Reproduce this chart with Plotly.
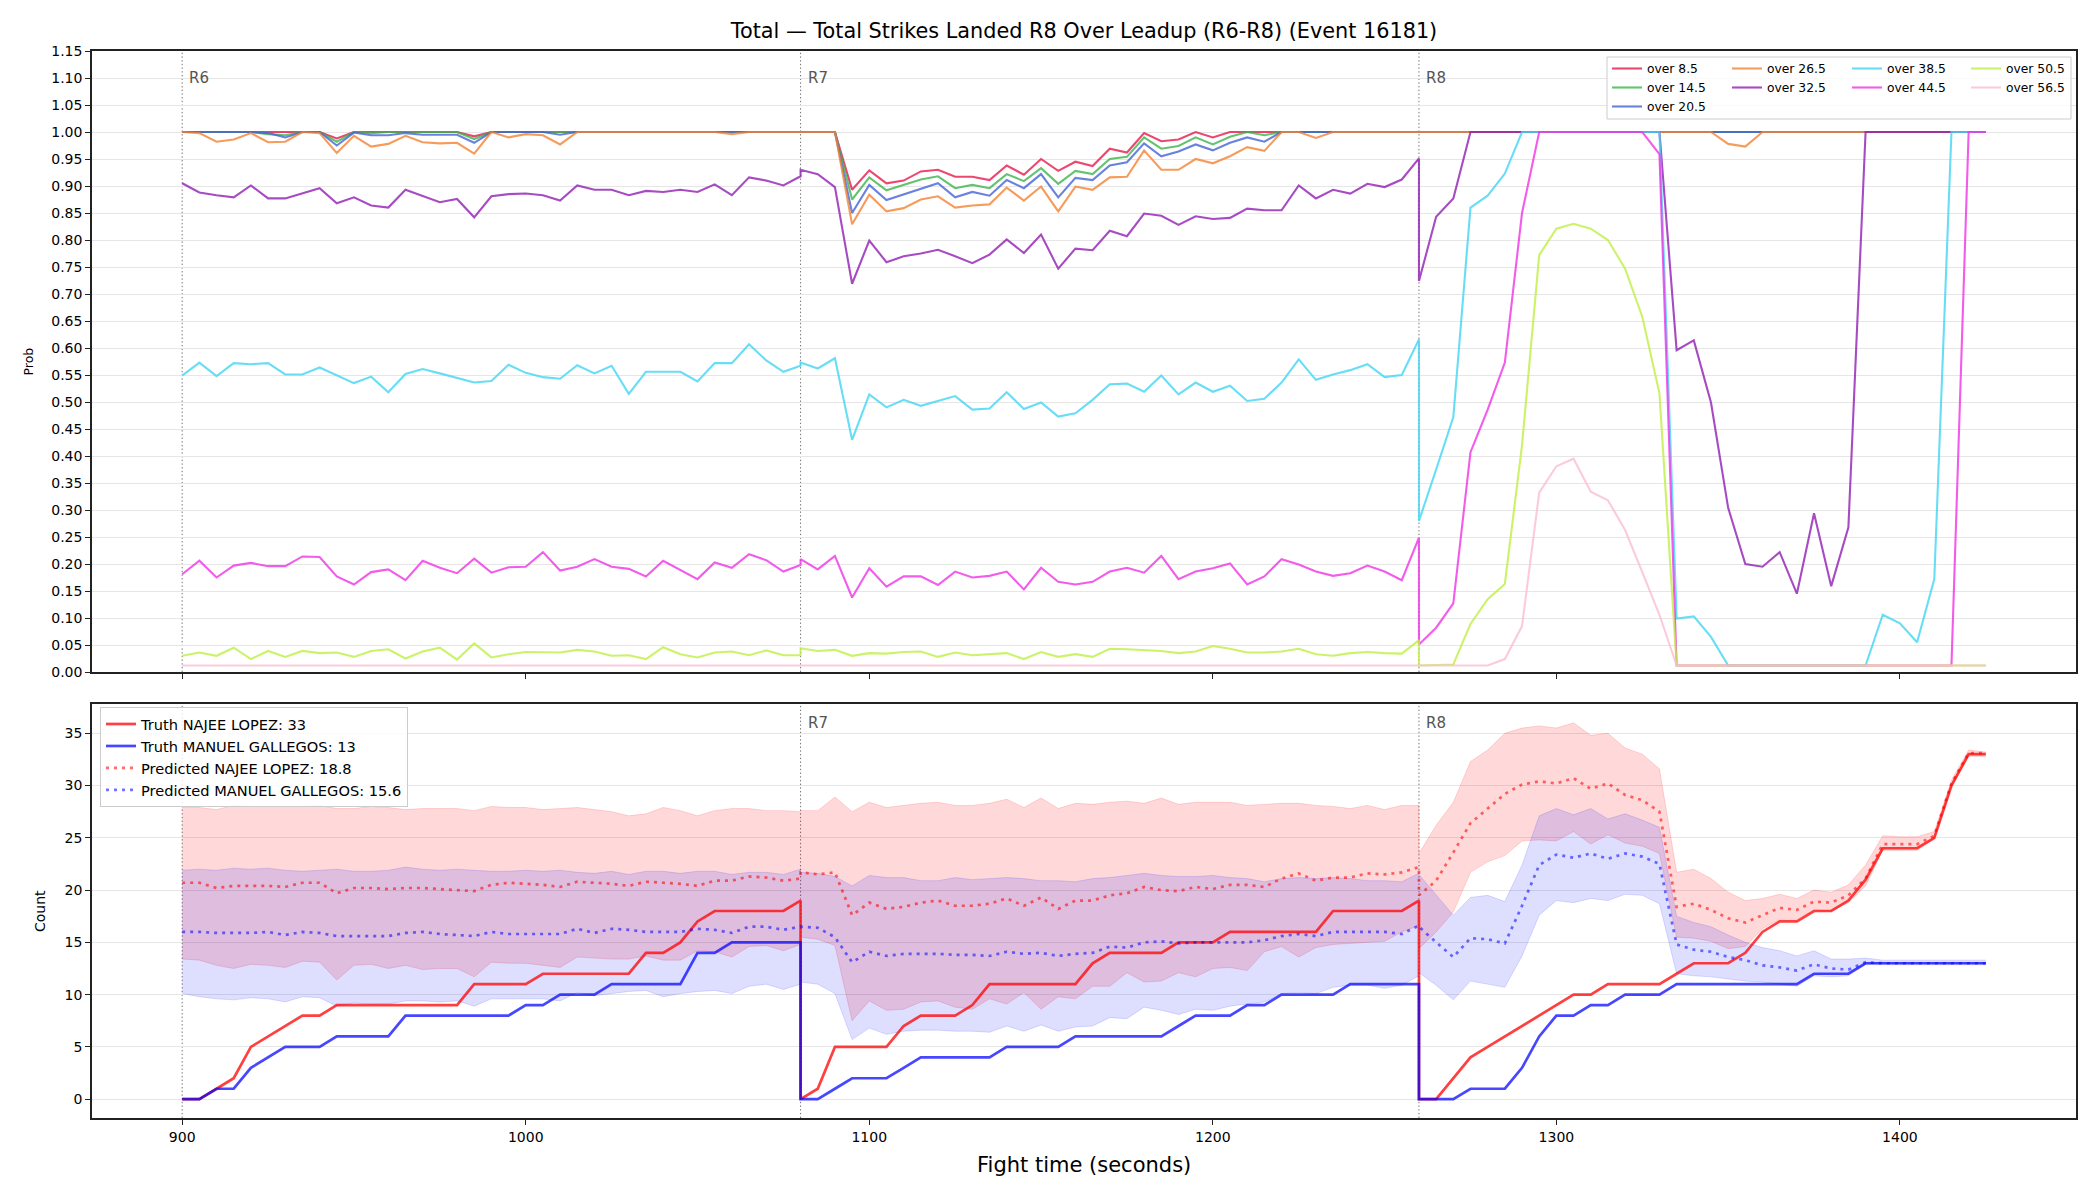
import plotly.graph_objects as go

# ---------------- time grid (5 s samples, each round restarts at its start time) ----------------
t_r6 = list(range(900, 1081, 5))    # 37 samples
t_r7 = list(range(1080, 1261, 5))   # 37 samples
t_r8 = list(range(1260, 1426, 5))   # 34 samples
time_s = t_r6 + t_r7 + t_r8

round_starts = [900, 1080, 1260]
round_labels = ["R6", "R7", "R8"]
x_ticks = [900, 1000, 1100, 1200, 1300, 1400]

# ---------------- top panel: line probabilities ----------------
over_8_5_r6 = [1.0, 1.0, 1.0, 1.0, 1.0, 1.0, 1.0, 1.0, 1.0, 0.988, 1.0, 1.0, 1.0, 1.0, 1.0, 1.0, 1.0, 0.992,
               1.0, 1.0, 1.0, 1.0, 1.0, 1.0, 1.0, 1.0, 1.0, 1.0, 1.0, 1.0, 1.0, 1.0, 1.0, 1.0, 1.0, 1.0, 1.0]
over_8_5_r7 = [1.0, 1.0, 1.0, 0.893, 0.929, 0.905, 0.910, 0.927, 0.930, 0.917, 0.917, 0.911, 0.938, 0.921,
               0.950, 0.928, 0.945, 0.937, 0.969, 0.962, 0.998, 0.983, 0.986, 1.0, 0.990, 1.0,
               1.0, 1.0, 1.0, 1.0, 1.0, 1.0, 1.0, 1.0, 1.0, 1.0, 1.0]
over_8_5_r8 = [1.0, 1.0, 1.0, 1.0, 1.0, 1.0, 1.0, 1.0, 1.0, 1.0, 1.0, 1.0, 1.0, 1.0, 1.0, 1.0, 1.0,
               1.0, 1.0, 1.0, 1.0, 1.0, 1.0, 1.0, 1.0, 1.0, 1.0, 1.0, 1.0, 1.0, 1.0, 1.0, 1.0, 1.0]

over_14_5_r6 = [1.0, 1.0, 1.0, 1.0, 1.0, 0.996, 0.994, 1.0, 1.0, 0.982, 1.0, 0.998, 1.0, 1.0, 1.0, 1.0, 1.0,
                0.987, 1.0, 1.0, 1.0, 1.0, 0.999, 1.0, 1.0, 1.0, 1.0, 1.0, 1.0, 1.0, 1.0, 1.0, 1.0, 1.0,
                1.0, 1.0, 1.0]
over_14_5_r7 = [1.0, 1.0, 1.0, 0.875, 0.916, 0.892, 0.902, 0.912, 0.918, 0.896, 0.902, 0.896, 0.922, 0.909,
                0.933, 0.904, 0.928, 0.922, 0.950, 0.954, 0.990, 0.969, 0.974, 0.990, 0.977, 0.991, 1.0,
                0.994, 1.0, 1.0, 1.0, 1.0, 1.0, 1.0, 1.0, 1.0, 1.0]
over_14_5_r8 = [1.0, 1.0, 1.0, 1.0, 1.0, 1.0, 1.0, 1.0, 1.0, 1.0, 1.0, 1.0, 1.0, 1.0, 1.0, 1.0, 1.0,
                1.0, 1.0, 1.0, 1.0, 1.0, 1.0, 1.0, 1.0, 1.0, 1.0, 1.0, 1.0, 1.0, 1.0, 1.0, 1.0, 1.0]

over_20_5_r6 = [1.0, 1.0, 1.0, 1.0, 1.0, 0.998, 0.990, 1.0, 1.0, 0.975, 0.999, 0.994, 0.994, 0.998, 0.995,
                0.995, 0.995, 0.980, 1.0, 1.0, 1.0, 1.0, 0.995, 1.0, 1.0, 1.0, 1.0, 1.0, 1.0, 1.0, 1.0,
                1.0, 1.0, 1.0, 1.0, 1.0, 1.0]
over_20_5_r7 = [1.0, 1.0, 1.0, 0.850, 0.902, 0.874, 0.884, 0.895, 0.905, 0.879, 0.889, 0.882, 0.911, 0.896,
                0.922, 0.879, 0.915, 0.911, 0.938, 0.944, 0.979, 0.955, 0.964, 0.977, 0.966, 0.980, 0.990,
                0.982, 1.0, 1.0, 1.0, 1.0, 1.0, 1.0, 1.0, 1.0, 1.0]
over_20_5_r8 = [1.0, 1.0, 1.0, 1.0, 1.0, 1.0, 1.0, 1.0, 1.0, 1.0, 1.0, 1.0, 1.0, 1.0, 1.0, 1.0, 1.0,
                1.0, 1.0, 1.0, 1.0, 1.0, 1.0, 1.0, 1.0, 1.0, 1.0, 1.0, 1.0, 1.0, 1.0, 1.0, 1.0, 1.0]

over_26_5_r6 = [1.0, 0.998, 0.982, 0.986, 0.998, 0.981, 0.982, 1.0, 0.998, 0.961, 0.993, 0.973, 0.978, 0.993,
                0.981, 0.979, 0.980, 0.960, 1.0, 0.990, 0.996, 0.994, 0.977, 1.0, 1.0, 1.0, 1.0, 1.0, 1.0,
                1.0, 1.0, 1.0, 0.996, 1.0, 1.0, 1.0, 1.0]
over_26_5_r7 = [1.0, 1.0, 1.0, 0.829, 0.884, 0.853, 0.859, 0.875, 0.881, 0.860, 0.864, 0.866, 0.897, 0.873,
                0.899, 0.853, 0.899, 0.893, 0.916, 0.917, 0.966, 0.930, 0.930, 0.950, 0.942, 0.955, 0.972,
                0.965, 1.0, 1.0, 0.989, 1.0, 1.0, 1.0, 1.0, 1.0, 1.0]
over_26_5_r8 = [1.0, 1.0, 1.0, 1.0, 1.0, 1.0, 1.0, 1.0, 1.0, 1.0, 1.0, 1.0, 1.0, 1.0, 1.0, 1.0, 1.0, 1.0,
                0.978, 0.973, 1.0, 1.0, 1.0, 1.0, 1.0, 1.0, 1.0, 1.0, 1.0, 1.0, 1.0, 1.0, 1.0, 1.0]

over_32_5_r6 = [0.905, 0.888, 0.883, 0.879, 0.901, 0.877, 0.877, 0.887, 0.896, 0.868, 0.879, 0.864, 0.860,
                0.893, 0.882, 0.870, 0.876, 0.842, 0.881, 0.885, 0.886, 0.883, 0.873, 0.901, 0.893, 0.893,
                0.883, 0.891, 0.889, 0.893, 0.889, 0.903, 0.883, 0.916, 0.910, 0.901, 0.918]
over_32_5_r7 = [0.930, 0.922, 0.898, 0.719, 0.799, 0.759, 0.770, 0.775, 0.782, 0.770, 0.757, 0.773, 0.801,
                0.776, 0.810, 0.747, 0.784, 0.781, 0.817, 0.807, 0.849, 0.845, 0.828, 0.844, 0.839, 0.841,
                0.858, 0.855, 0.855, 0.901, 0.877, 0.893, 0.886, 0.904, 0.898, 0.912, 0.951]
over_32_5_r8 = [0.724, 0.843, 0.877, 1.0, 1.0, 1.0, 1.0, 1.0, 1.0, 1.0, 1.0, 1.0, 1.0, 1.0, 1.0,
                0.596, 0.614, 0.499, 0.304, 0.200, 0.195, 0.222, 0.145, 0.294, 0.159, 0.268,
                1.0, 1.0, 1.0, 1.0, 1.0, 1.0, 1.0, 1.0]

over_38_5_r6 = [0.549, 0.573, 0.548, 0.572, 0.570, 0.572, 0.551, 0.551, 0.564, 0.550, 0.535, 0.547, 0.518,
                0.552, 0.561, 0.553, 0.545, 0.536, 0.539, 0.569, 0.554, 0.546, 0.543, 0.568, 0.553, 0.567,
                0.515, 0.556, 0.556, 0.556, 0.538, 0.572, 0.572, 0.607, 0.577, 0.556, 0.567]
over_38_5_r7 = [0.573, 0.562, 0.581, 0.430, 0.514, 0.490, 0.504, 0.493, 0.502, 0.511, 0.486, 0.488, 0.518,
                0.487, 0.499, 0.473, 0.479, 0.504, 0.533, 0.534, 0.519, 0.549, 0.514, 0.536, 0.519, 0.530,
                0.502, 0.506, 0.536, 0.579, 0.541, 0.551, 0.559, 0.570, 0.546, 0.550, 0.616]
over_38_5_r8 = [0.280, 0.375, 0.472, 0.860, 0.882, 0.923, 1.0, 1.0, 1.0, 1.0, 1.0, 1.0, 1.0, 1.0, 1.0,
                0.099, 0.103, 0.065, 0.012, 0.012, 0.012, 0.012, 0.012, 0.012, 0.012, 0.012, 0.012,
                0.106, 0.090, 0.055, 0.172, 1.0, 1.0, 1.0]

over_44_5_r6 = [0.181, 0.206, 0.175, 0.197, 0.202, 0.196, 0.196, 0.214, 0.213, 0.177, 0.162, 0.185, 0.190,
                0.170, 0.206, 0.193, 0.183, 0.210, 0.184, 0.194, 0.195, 0.222, 0.188, 0.195, 0.209, 0.195,
                0.191, 0.177, 0.206, 0.189, 0.172, 0.203, 0.193, 0.218, 0.207, 0.186, 0.198]
over_44_5_r7 = [0.209, 0.190, 0.215, 0.138, 0.192, 0.158, 0.177, 0.177, 0.161, 0.186, 0.175, 0.178, 0.186,
                0.153, 0.193, 0.167, 0.162, 0.167, 0.186, 0.193, 0.184, 0.215, 0.172, 0.186, 0.192, 0.201,
                0.162, 0.177, 0.209, 0.199, 0.186, 0.178, 0.183, 0.197, 0.186, 0.170, 0.249]
over_44_5_r8 = [0.051, 0.082, 0.127, 0.407, 0.486, 0.573, 0.850, 1.0, 1.0, 1.0, 1.0, 1.0, 1.0, 1.0, 0.959,
                0.012, 0.012, 0.012, 0.012, 0.012, 0.012, 0.012, 0.012, 0.012, 0.012, 0.012, 0.012,
                0.012, 0.012, 0.012, 0.012, 0.012, 1.0, 1.0]

over_50_5_r6 = [0.030, 0.036, 0.030, 0.045, 0.024, 0.039, 0.028, 0.039, 0.035, 0.036, 0.028, 0.039, 0.042,
                0.025, 0.038, 0.045, 0.023, 0.053, 0.027, 0.033, 0.037, 0.036, 0.036, 0.041, 0.038, 0.030,
                0.031, 0.024, 0.046, 0.033, 0.027, 0.036, 0.038, 0.031, 0.040, 0.031, 0.031]
over_50_5_r7 = [0.044, 0.039, 0.041, 0.030, 0.035, 0.034, 0.037, 0.038, 0.028, 0.036, 0.031, 0.033, 0.035,
                0.024, 0.037, 0.028, 0.033, 0.028, 0.043, 0.042, 0.040, 0.039, 0.035, 0.038, 0.048, 0.043,
                0.036, 0.036, 0.038, 0.043, 0.033, 0.030, 0.035, 0.037, 0.035, 0.034, 0.059]
over_50_5_r8 = [0.012, 0.013, 0.014, 0.089, 0.135, 0.163, 0.420, 0.772, 0.821, 0.830, 0.821, 0.800, 0.747,
                0.658, 0.516, 0.012, 0.012, 0.012, 0.012, 0.012, 0.012, 0.012, 0.012, 0.012, 0.012,
                0.012, 0.012, 0.012, 0.012, 0.012, 0.012, 0.012, 0.012, 0.012]

over_56_5_r6 = [0.012, 0.012, 0.012, 0.012, 0.012, 0.012, 0.012, 0.012, 0.012, 0.012, 0.012, 0.012, 0.012,
                0.012, 0.012, 0.012, 0.012, 0.012, 0.012, 0.012, 0.012, 0.012, 0.012, 0.012, 0.012, 0.012,
                0.012, 0.012, 0.012, 0.012, 0.012, 0.012, 0.012, 0.012, 0.012, 0.012, 0.012]
over_56_5_r7 = [0.012, 0.012, 0.012, 0.012, 0.012, 0.012, 0.012, 0.012, 0.012, 0.012, 0.012, 0.012, 0.012,
                0.012, 0.012, 0.012, 0.012, 0.012, 0.012, 0.012, 0.012, 0.012, 0.012, 0.012, 0.012, 0.012,
                0.012, 0.012, 0.012, 0.012, 0.012, 0.012, 0.012, 0.012, 0.012, 0.012, 0.012]
over_56_5_r8 = [0.012, 0.012, 0.012, 0.012, 0.012, 0.024, 0.085, 0.332, 0.381, 0.395, 0.334, 0.318, 0.263,
                0.185, 0.106, 0.012, 0.012, 0.012, 0.012, 0.012, 0.012, 0.012, 0.012, 0.012, 0.012,
                0.012, 0.012, 0.012, 0.012, 0.012, 0.012, 0.012, 0.012, 0.012]

line_names = ["over 8.5", "over 14.5", "over 20.5", "over 26.5", "over 32.5",
              "over 38.5", "over 44.5", "over 50.5", "over 56.5"]
line_colors = ["rgba(230,25,75,0.8)", "rgba(60,180,75,0.8)", "rgba(67,99,216,0.8)",
               "rgba(245,130,49,0.8)", "rgba(145,30,180,0.8)", "rgba(66,212,244,0.8)",
               "rgba(240,50,230,0.8)", "rgba(191,239,69,0.8)", "rgba(250,190,212,0.8)"]
line_legend_cols = ["legend", "legend", "legend", "legend2", "legend2",
                    "legend3", "legend3", "legend4", "legend4"]

prob_values = [
    over_8_5_r6 + over_8_5_r7 + over_8_5_r8,
    over_14_5_r6 + over_14_5_r7 + over_14_5_r8,
    over_20_5_r6 + over_20_5_r7 + over_20_5_r8,
    over_26_5_r6 + over_26_5_r7 + over_26_5_r8,
    over_32_5_r6 + over_32_5_r7 + over_32_5_r8,
    over_38_5_r6 + over_38_5_r7 + over_38_5_r8,
    over_44_5_r6 + over_44_5_r7 + over_44_5_r8,
    over_50_5_r6 + over_50_5_r7 + over_50_5_r8,
    over_56_5_r6 + over_56_5_r7 + over_56_5_r8,
]

# ---------------- bottom panel: cumulative counts ----------------
truth_najee_r6 = [0, 0, 1, 2, 5, 6, 7, 8, 8, 9, 9, 9, 9, 9, 9, 9, 9, 11, 11, 11, 11, 12, 12, 12, 12, 12, 12,
                  14, 14, 15, 17, 18, 18, 18, 18, 18, 19]
truth_najee_r7 = [0, 1, 5, 5, 5, 5, 7, 8, 8, 8, 9, 11, 11, 11, 11, 11, 11, 13, 14, 14, 14, 14, 15, 15, 15,
                  16, 16, 16, 16, 16, 16, 18, 18, 18, 18, 18, 19]
truth_najee_r8 = [0, 0, 2, 4, 5, 6, 7, 8, 9, 10, 10, 11, 11, 11, 11, 12, 13, 13, 13, 14, 16, 17, 17, 18, 18,
                  19, 21, 24, 24, 24, 25, 30, 33, 33]

truth_manuel_r6 = [0, 0, 1, 1, 3, 4, 5, 5, 5, 6, 6, 6, 6, 8, 8, 8, 8, 8, 8, 8, 9, 9, 10, 10, 10, 11, 11, 11,
                   11, 11, 14, 14, 15, 15, 15, 15, 15]
truth_manuel_r7 = [0, 0, 1, 2, 2, 2, 3, 4, 4, 4, 4, 4, 5, 5, 5, 5, 6, 6, 6, 6, 6, 6, 7, 8, 8, 8, 9, 9, 10, 10,
                   10, 10, 11, 11, 11, 11, 11]
truth_manuel_r8 = [0, 0, 0, 1, 1, 1, 3, 6, 8, 8, 9, 9, 10, 10, 10, 11, 11, 11, 11, 11, 11, 11, 11, 12, 12, 12,
                   13, 13, 13, 13, 13, 13, 13, 13]

pred_najee_r6 = [20.7, 20.7, 20.2, 20.4, 20.4, 20.4, 20.3, 20.7, 20.7, 19.7, 20.2, 20.2, 20.1, 20.2, 20.2,
                 20.1, 20.0, 19.9, 20.5, 20.7, 20.6, 20.5, 20.3, 20.8, 20.7, 20.6, 20.4, 20.8, 20.7, 20.6,
                 20.4, 20.9, 20.9, 21.3, 21.2, 20.9, 21.1]
pred_najee_r7 = [21.7, 21.5, 21.7, 17.6, 18.8, 18.2, 18.4, 18.8, 19.0, 18.5, 18.5, 18.7, 19.2, 18.5, 19.3,
                 18.2, 19.0, 19.0, 19.5, 19.7, 20.3, 20.0, 19.9, 20.3, 20.1, 20.5, 20.5, 20.3, 21.1, 21.6,
                 20.9, 21.2, 21.2, 21.6, 21.5, 21.7, 22.2]
pred_najee_r8 = [19.5, 20.9, 23.6, 26.4, 27.8, 29.2, 30.1, 30.4, 30.2, 30.7, 29.7, 30.2, 29.1, 28.6, 27.5,
                 18.4, 18.7, 18.1, 17.3, 16.9, 17.6, 18.3, 18.1, 18.9, 18.8, 19.5, 21.1, 24.4, 24.4, 24.4,
                 25.2, 30.2, 33.1, 33.1]

pred_manuel_r6 = [16.0, 16.0, 15.9, 15.9, 15.9, 16.0, 15.7, 16.0, 15.9, 15.6, 15.6, 15.6, 15.6, 15.9, 16.0,
                  15.8, 15.7, 15.6, 16.0, 15.8, 15.8, 15.8, 15.8, 16.3, 15.9, 16.3, 16.2, 16.0, 16.0, 16.0,
                  16.3, 16.2, 15.9, 16.5, 16.5, 16.2, 16.5]
pred_manuel_r7 = [16.5, 16.4, 15.5, 13.1, 14.1, 13.7, 13.9, 13.9, 13.9, 13.8, 13.8, 13.7, 14.1, 13.9, 14.0,
                  13.7, 13.9, 14.0, 14.6, 14.5, 15.0, 15.1, 14.9, 15.0, 15.0, 15.0, 15.0, 15.2, 15.6, 15.8,
                  15.6, 16.0, 16.0, 16.0, 16.0, 15.8, 16.6]
pred_manuel_r8 = [16.5, 15.0, 13.6, 15.4, 15.3, 14.9, 18.5, 22.4, 23.4, 23.1, 23.5, 23.0, 23.5, 23.2, 22.5,
                  14.8, 14.3, 14.1, 13.6, 13.3, 12.8, 12.6, 12.3, 12.9, 12.5, 12.4, 13.1, 13.0, 13.0, 13.0,
                  13.0, 13.0, 13.0, 13.0]

upper_najee_r6 = [27.9, 27.9, 27.7, 28.1, 28.0, 28.0, 28.0, 28.0, 28.1, 27.8, 27.8, 28.0, 27.9, 27.7, 27.8,
                  27.8, 27.8, 27.6, 28.0, 27.9, 27.9, 27.7, 27.8, 27.9, 27.7, 27.5, 27.1, 27.3, 27.9, 27.6,
                  27.1, 27.6, 27.8, 27.8, 27.6, 27.6, 27.5]
upper_najee_r7 = [27.6, 27.6, 28.9, 27.5, 28.4, 27.9, 28.1, 28.3, 28.4, 28.1, 28.1, 28.3, 28.7, 27.9, 28.8,
                  27.8, 28.3, 28.2, 28.4, 28.5, 28.3, 28.8, 28.2, 28.4, 28.4, 28.4, 28.1, 28.2, 28.3, 28.3,
                  28.1, 28.0, 27.8, 28.1, 27.7, 28.1, 28.1]
upper_najee_r8 = [23.5, 26.2, 28.4, 32.3, 33.4, 35.0, 35.5, 35.7, 35.5, 36.0, 34.8, 35.0, 33.6, 33.0, 31.6,
                  21.7, 22.0, 21.1, 19.8, 19.0, 19.2, 19.6, 19.2, 20.0, 19.8, 20.5, 22.4, 25.2, 25.1, 25.1,
                  25.6, 30.5, 33.4, 33.2]

lower_najee_r6 = [13.4, 13.3, 12.8, 12.5, 12.9, 12.8, 12.6, 13.2, 13.1, 11.4, 12.8, 12.9, 12.5, 12.8, 12.4,
                  12.5, 12.5, 11.7, 13.1, 13.0, 13.0, 12.8, 12.6, 13.6, 13.5, 13.4, 13.4, 13.7, 13.3, 13.3,
                  14.2, 14.1, 13.6, 14.6, 14.7, 14.2, 14.8]
lower_najee_r7 = [15.5, 15.3, 14.7, 7.5, 9.4, 8.5, 8.6, 9.3, 9.4, 8.8, 8.6, 9.6, 9.1, 10.2, 8.6, 9.8, 9.6,
                  10.8, 10.8, 12.1, 11.2, 11.3, 12.1, 11.7, 12.5, 12.6, 12.3, 14.1, 14.6, 13.6, 14.5, 14.8,
                  14.9, 15.0, 15.1, 16.0, 16.6]
lower_najee_r8 = [14.4, 16.0, 17.9, 21.7, 22.7, 23.3, 24.7, 24.8, 24.7, 25.6, 24.4, 25.3, 24.5, 24.2, 23.5,
                  15.5, 15.4, 15.1, 14.4, 14.6, 16.3, 17.2, 17.2, 18.1, 18.0, 18.8, 20.4, 23.8, 23.8, 23.8,
                  24.9, 29.9, 32.8, 32.8]

upper_manuel_r6 = [21.9, 22.0, 21.9, 22.1, 22.0, 22.1, 21.9, 21.8, 21.9, 22.0, 21.8, 21.8, 21.9, 22.2, 22.0,
                   21.9, 22.0, 21.9, 21.8, 21.8, 21.9, 21.8, 21.9, 21.7, 21.6, 21.8, 21.5, 21.8, 21.8, 21.6,
                   21.8, 21.8, 21.5, 21.7, 21.7, 21.5, 22.0]
upper_manuel_r7 = [21.7, 21.6, 21.3, 20.4, 21.4, 21.2, 21.2, 20.9, 20.9, 21.2, 21.0, 21.1, 21.2, 21.1, 20.9,
                   20.9, 20.8, 21.1, 21.2, 21.4, 21.6, 21.4, 21.3, 21.3, 21.4, 21.2, 21.1, 20.8, 21.1, 21.2,
                   21.1, 21.2, 21.1, 20.9, 20.9, 20.8, 21.6]
upper_manuel_r8 = [21.5, 19.5, 17.6, 19.3, 19.5, 18.9, 22.4, 27.1, 27.8, 27.2, 27.8, 26.8, 27.3, 26.7, 26.0,
                   17.5, 16.9, 16.5, 15.7, 15.0, 14.5, 14.2, 13.7, 14.2, 13.4, 13.4, 13.5, 13.3, 13.3, 13.3,
                   13.3, 13.3, 13.3, 13.3]

lower_manuel_r6 = [10.1, 9.8, 9.6, 9.5, 9.7, 9.6, 9.3, 9.8, 9.7, 8.9, 9.2, 9.1, 9.1, 9.4, 9.4, 9.3, 9.4, 8.9,
                   9.6, 9.6, 9.6, 9.6, 9.4, 10.2, 9.9, 10.1, 10.3, 10.4, 9.8, 10.1, 10.3, 10.4, 10.1, 10.8,
                   11.0, 10.5, 11.0]
lower_manuel_r7 = [11.2, 11.0, 10.1, 5.7, 6.8, 6.2, 6.5, 6.6, 6.6, 6.5, 6.5, 6.4, 7.0, 6.5, 7.1, 6.5, 6.9,
                   7.0, 7.8, 7.7, 8.8, 8.5, 8.1, 8.6, 8.5, 8.9, 9.1, 9.3, 10.1, 10.2, 10.1, 10.7, 10.9, 10.9,
                   10.6, 10.9, 11.8]
lower_manuel_r8 = [12.1, 10.9, 9.5, 11.3, 11.0, 10.7, 13.7, 17.6, 19.0, 18.8, 19.2, 19.0, 19.6, 19.5, 18.7,
                   12.0, 11.8, 11.7, 11.5, 11.3, 11.2, 11.0, 10.8, 11.8, 11.7, 11.8, 12.9, 12.9, 12.9, 12.9,
                   12.9, 12.9, 12.9, 12.9]

truth_najee = truth_najee_r6 + truth_najee_r7 + truth_najee_r8
truth_manuel = truth_manuel_r6 + truth_manuel_r7 + truth_manuel_r8
pred_najee = pred_najee_r6 + pred_najee_r7 + pred_najee_r8
pred_manuel = pred_manuel_r6 + pred_manuel_r7 + pred_manuel_r8
upper_najee = upper_najee_r6 + upper_najee_r7 + upper_najee_r8
lower_najee = lower_najee_r6 + lower_najee_r7 + lower_najee_r8
upper_manuel = upper_manuel_r6 + upper_manuel_r7 + upper_manuel_r8
lower_manuel = lower_manuel_r6 + lower_manuel_r7 + lower_manuel_r8

label_truth_najee = "Truth NAJEE LOPEZ: 33"
label_truth_manuel = "Truth MANUEL GALLEGOS: 13"
label_pred_najee = "Predicted NAJEE LOPEZ: 18.8"
label_pred_manuel = "Predicted MANUEL GALLEGOS: 15.6"

title_text = "Total \u2014 Total Strikes Landed R8 Over Leadup (R6-R8) (Event 16181)"

for arr in prob_values + [truth_najee, truth_manuel, pred_najee, pred_manuel,
                          upper_najee, lower_najee, upper_manuel, lower_manuel]:
    assert len(arr) == len(time_s), len(arr)

# ---------------- figure ----------------
W, H = 2100, 1200
ML, MR, MT, MB = 92, 24, 51, 82
PW, PH = W - ML - MR, H - MT - MB


def px_x(px):
    return (px - ML) / PW


def px_y(py):
    return (H - MB - py) / PH


FONT = "DejaVu Sans"
fig = go.Figure()

for name, vals, color, leg in zip(line_names, prob_values, line_colors, line_legend_cols):
    fig.add_trace(go.Scatter(x=time_s, y=vals, mode="lines", name=name,
                             line=dict(color=color, width=2.1),
                             xaxis="x", yaxis="y", legend=leg))

# bands
band_specs = [(upper_najee, lower_najee, "rgba(255,0,0,0.15)"),
              (upper_manuel, lower_manuel, "rgba(0,0,255,0.13)")]
for up, lo, col in band_specs:
    fig.add_trace(go.Scatter(x=time_s, y=up, mode="lines", line=dict(color=col, width=1),
                             showlegend=False, hoverinfo="skip", xaxis="x2", yaxis="y2",
                             legend="legend5"))
    fig.add_trace(go.Scatter(x=time_s, y=lo, mode="lines", line=dict(color=col, width=1),
                             fill="tonexty", fillcolor=col,
                             showlegend=False, hoverinfo="skip", xaxis="x2", yaxis="y2",
                             legend="legend5"))

count_specs = [
    (truth_najee, label_truth_najee, "rgba(255,0,0,0.75)", "solid", "g1"),
    (truth_manuel, label_truth_manuel, "rgba(0,0,255,0.72)", "solid", "g2"),
    (pred_najee, label_pred_najee, "rgba(255,0,0,0.58)", "3px,5px", "g3"),
    (pred_manuel, label_pred_manuel, "rgba(0,0,255,0.55)", "3px,5px", "g4"),
]
for vals, name, col, dash, grp in count_specs:
    fig.add_trace(go.Scatter(x=time_s, y=vals, mode="lines", name=name,
                             line=dict(color=col, width=2.7, dash=dash),
                             xaxis="x2", yaxis="y2", legend="legend5", legendgroup=grp))

shapes = []
annotations = []
for rs, rl in zip(round_starts, round_labels):
    for xa, ya in (("x", "y"), ("x2", "y2")):
        shapes.append(dict(type="line", xref=xa, yref=ya + " domain", x0=rs, x1=rs, y0=0, y1=1,
                           line=dict(color="rgba(0,0,0,0.55)", width=1, dash="1.4px,2.3px"),
                           layer="below"))
    annotations.append(dict(x=rs, xref="x", y=0.957, yref="y domain", text=rl, showarrow=False,
                            xanchor="left", yanchor="middle", xshift=5,
                            font=dict(family=FONT, size=15, color="#555555")))
    if rs != round_starts[0]:
        annotations.append(dict(x=rs, xref="x2", y=0.954, yref="y2 domain", text=rl, showarrow=False,
                                xanchor="left", yanchor="middle", xshift=5,
                                font=dict(family=FONT, size=15, color="#555555")))

# top legend frame (4 columns)
shapes.append(dict(type="rect", xref="paper", yref="paper",
                   x0=px_x(1607), x1=px_x(2071), y0=px_y(119), y1=px_y(57),
                   fillcolor="rgba(255,255,255,0.8)", line=dict(color="#cccccc", width=1),
                   layer="above"))

annotations += [
    dict(text="Prob", x=px_x(28), xref="paper", y=0.5, yref="y domain", textangle=-90,
         showarrow=False, xanchor="center", yanchor="middle", font=dict(family=FONT, size=12.5)),
    dict(text="Count", x=px_x(40), xref="paper", y=0.5, yref="y2 domain", textangle=-90,
         showarrow=False, xanchor="center", yanchor="middle", font=dict(family=FONT, size=14)),
    dict(text="Fight time (seconds)", x=0.5, xref="paper", y=px_y(1165), yref="paper",
         showarrow=False, xanchor="center", yanchor="middle", font=dict(family=FONT, size=21)),
]

x_range = [873.75, 1451.25]
common_axis = dict(showline=True, mirror=True, linecolor="#222222", linewidth=1.6,
                   ticks="outside", ticklen=5, tickwidth=1.2, tickcolor="#222222",
                   zeroline=False, automargin=False,
                   tickfont=dict(family=FONT, size=14, color="black"))

top_legend_common = dict(yanchor="top", xanchor="left", y=px_y(54), bgcolor="rgba(0,0,0,0)",
                         borderwidth=0, font=dict(family=FONT, size=12.3, color="black"),
                         orientation="v", traceorder="normal")

fig.update_layout(
    width=W, height=H,
    margin=dict(l=ML, r=MR, t=MT, b=MB),
    paper_bgcolor="white", plot_bgcolor="white",
    font=dict(family=FONT, size=14, color="black"),
    title=dict(text=title_text, x=0.5, xref="paper", xanchor="center",
               y=1 - 31 / H, yref="container", yanchor="middle",
               font=dict(family=FONT, size=20.8, color="black")),
    xaxis=dict(domain=[0, 1], anchor="y", range=x_range, tickvals=x_ticks,
               showticklabels=False, showgrid=False, **common_axis),
    yaxis=dict(domain=[px_y(672), 1.0], anchor="x", range=[0, 1.15], tick0=0, dtick=0.05,
               tickformat=".2f", showgrid=True, gridcolor="#e6e6e6", gridwidth=1, **common_axis),
    xaxis2=dict(domain=[0, 1], anchor="y2", range=x_range, tickvals=x_ticks,
                showticklabels=True, showgrid=False, **common_axis),
    yaxis2=dict(domain=[0.0, px_y(704)], anchor="x2", range=[-1.8, 37.8], tick0=0, dtick=5,
                showgrid=True, gridcolor="#e6e6e6", gridwidth=1, **common_axis),
    legend=dict(x=px_x(1607), **top_legend_common),
    legend2=dict(x=px_x(1727), **top_legend_common),
    legend3=dict(x=px_x(1847), **top_legend_common),
    legend4=dict(x=px_x(1966), **top_legend_common),
    legend5=dict(x=px_x(100), y=px_y(707), xanchor="left", yanchor="top",
                 bgcolor="rgba(255,255,255,0.8)", bordercolor="#cccccc", borderwidth=1,
                 font=dict(family=FONT, size=14.6, color="black"), tracegroupgap=0.5,
                 orientation="v", traceorder="normal"),
    shapes=shapes,
    annotations=annotations,
    showlegend=True,
)

fig.write_html("out.html")
